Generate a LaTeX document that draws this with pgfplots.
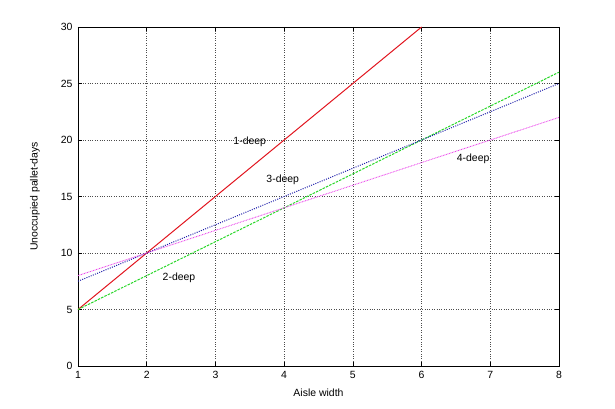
\documentclass[border=0pt]{standalone}
\usepackage{pgfplots}
\pgfplotsset{compat=1.18}
\usepackage{fontspec}
\setmainfont{Liberation Sans}
\definecolor{gred}{RGB}{225,20,30}
\definecolor{ggreen}{RGB}{40,215,40}
\definecolor{gblue}{RGB}{30,30,170}
\definecolor{gmag}{RGB}{235,70,235}
\begin{document}
\begin{tikzpicture}
\begin{axis}[
  scale only axis,
  width=481bp, height=339bp,
  xmin=1, xmax=8, ymin=0, ymax=30,
  xtick={1,...,8}, ytick={0,5,...,30},
  grid=major,
  major grid style={black!70, dotted, line width=0.5pt},
  axis line style={black, line width=0.8pt},
  tick style={black, line width=0.5pt},
  tick align=inside,
  major tick length=4bp,
  font=\fontsize{10.5}{12}\selectfont,
  /pgf/number format/assume math mode=true,
  xlabel={Aisle width},
  ylabel={Unoccupied pallet-days},
  xlabel style={at={(axis description cs:0.5,-0.0797)}, anchor=center},
  ylabel style={at={(axis description cs:-0.0894,0.5)}, anchor=center},
  yticklabel style={xshift=-2bp},
  xticklabel style={yshift=-2bp},
  clip=true,
]
\addplot[gred, line width=1pt] coordinates {(1,5) (6,30)};
\addplot[ggreen, line width=1pt, dash pattern=on 2.5pt off 1.2pt] coordinates {(1,5) (8,26)};
\addplot[gblue, line width=1pt, dash pattern=on 1pt off 1.3pt] coordinates {(1,7.5) (8,25)};
\addplot[gmag, line width=0.9pt, dash pattern=on 0.8pt off 0.8pt] coordinates {(1,8) (8,22)};
\node at (axis cs:3.5,19.8) {1-deep};
\node at (axis cs:2.47,7.8) {2-deep};
\node at (axis cs:3.98,16.5) {3-deep};
\node at (axis cs:6.75,18.3) {4-deep};
\end{axis}
\path (current axis.south west) ++(-78bp,-43bp) rectangle ++(615bp,409bp);
\end{tikzpicture}
\end{document}
